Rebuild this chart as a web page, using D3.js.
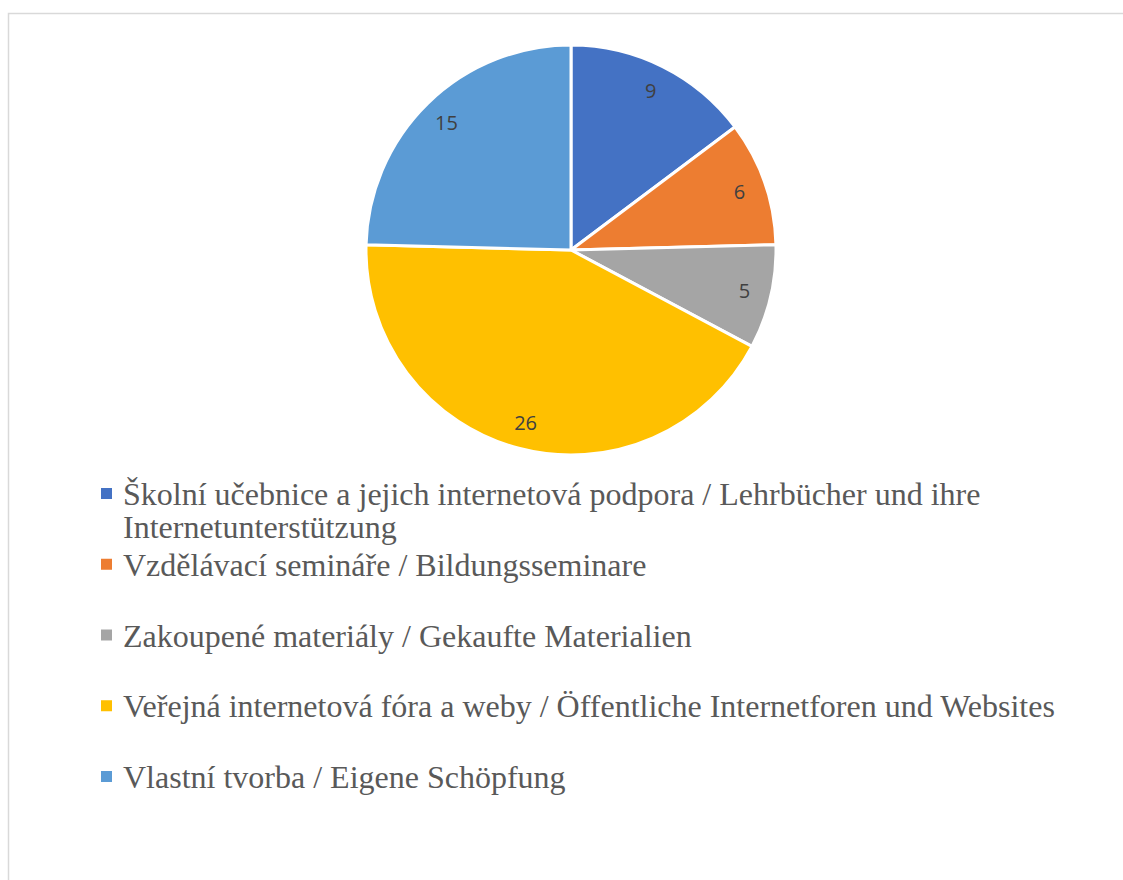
<!DOCTYPE html>
<html>
<head>
<meta charset="utf-8">
<script src="https://cdn.jsdelivr.net/npm/d3@7"></script>
<style>
  html, body { margin: 0; padding: 0; background: #fff; }
</style>
</head>
<body>
<div id="chart"></div>
<script>
'use strict'

// data
const categories = [
    'Školní učebnice a jejich internetová podpora / Lehrbücher und ihre Internetunterstützung',
    'Vzdělávací semináře / Bildungsseminare',
    'Zakoupené materiály / Gekaufte Materialien',
    'Veřejná internetová fóra a weby / Öffentliche Internetforen und Websites',
    'Vlastní tvorba / Eigene Schöpfung'
]
const values = [9, 6, 5, 26, 15]
const colors = ['#4472C4', '#ED7D31', '#A5A5A5', '#FFC000', '#5B9BD5']

////////////////////////////////////
//////////// svg setup /////////////
////////////////////////////////////

const svgWidth = 1123
const svgHeight = 880

const svg = d3.select('#chart').append('svg')
    .attr('width', svgWidth)
    .attr('height', svgHeight)

// chart frame
svg.append('rect')
    .attr('x', 8.5)
    .attr('y', 13.5)
    .attr('width', 1120)
    .attr('height', 900)
    .attr('fill', 'none')
    .attr('stroke', '#d9d9d9')
    .attr('stroke-width', 1.5)

// pie
const cx = 571, cy = 250, radius = 205

const pie = d3.pie().sort(null).value(d => d)
const arcs = pie(values)

const arc = d3.arc().innerRadius(0).outerRadius(radius)
const labelArc = d3.arc().innerRadius(radius * 0.87).outerRadius(radius * 0.87)

const g = svg.append('g').attr('transform', `translate(${cx},${cy})`)

g.selectAll('path.slice')
    .data(arcs)
    .join('path')
    .attr('class', 'slice')
    .attr('d', arc)
    .attr('fill', (d, i) => colors[i])
    .attr('stroke', '#fff')
    .attr('stroke-width', 3)
    .attr('stroke-linejoin', 'round')

g.selectAll('text.val')
    .data(arcs)
    .join('text')
    .attr('class', 'val')
    .attr('transform', d => `translate(${labelArc.centroid(d)})`)
    .attr('text-anchor', 'middle')
    .attr('dominant-baseline', 'central')
    .style('font-family', '"Open Sans", "Noto Sans", sans-serif')
    .style('font-size', '20px')
    .attr('fill', '#404040')
    .text(d => d.data)

// legend
const legendX = 101
const textX = 123
const rowY = d3.scaleLinear().domain([0, categories.length - 1]).range([494, 777])
const lineH = 33
const maxW = 960

const legend = svg.append('g')

categories.forEach((name, i) => {
    const y = rowY(i)
    legend.append('rect')
        .attr('x', legendX)
        .attr('y', y - 6)
        .attr('width', 11)
        .attr('height', 11)
        .attr('fill', colors[i])

    const t = legend.append('text')
        .attr('x', textX)
        .attr('y', y)
        .attr('dominant-baseline', 'central')
        .style('font-family', '"Liberation Serif", "Times New Roman", serif')
        .style('font-size', '32px')
        .attr('fill', '#595959')

    // simple word wrap
    const words = name.split(' ')
    let line = []
    let tspan = t.append('tspan').attr('x', textX).attr('y', y)
    let lineNo = 0
    words.forEach(w => {
        line.push(w)
        tspan.text(line.join(' '))
        if (tspan.node().getComputedTextLength() > maxW && line.length > 1) {
            line.pop()
            tspan.text(line.join(' '))
            line = [w]
            lineNo++
            tspan = t.append('tspan').attr('x', textX).attr('y', y + lineNo * lineH).text(w)
        }
    })
})
</script>
</body>
</html>
